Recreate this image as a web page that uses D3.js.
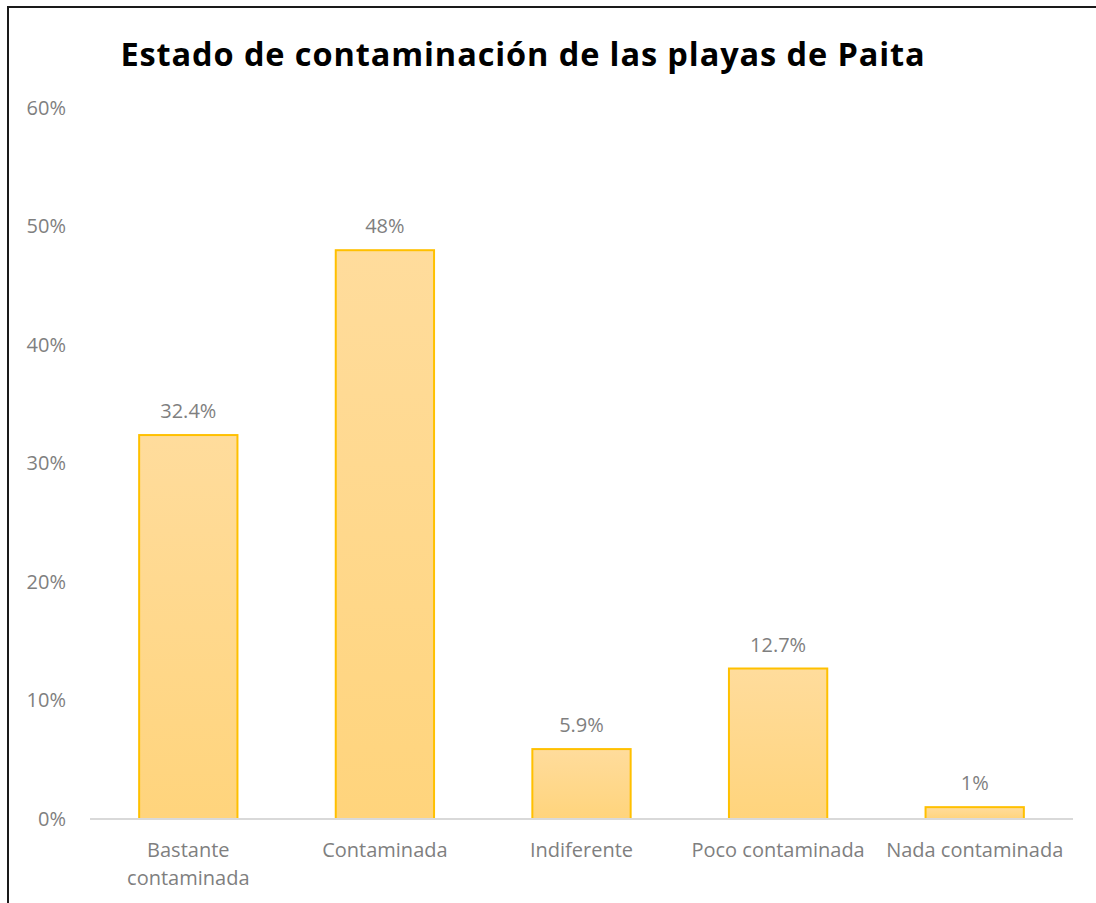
<!DOCTYPE html>
<html>
<head>
<meta charset="utf-8">
<script src="https://cdn.jsdelivr.net/npm/d3@7"></script>
<style>
  body { margin: 0; background: #fff; }
  text { font-family: "Open Sans", "Noto Sans", sans-serif; }
</style>
</head>
<body>
<div id="chart"></div>
<script>
// data
var categories = ["Bastante contaminada", "Contaminada", "Indiferente", "Poco contaminada", "Nada contaminada"];
var values = [32.4, 48, 5.9, 12.7, 1];
var valueLabels = ["32.4%", "48%", "5.9%", "12.7%", "1%"];
var yTicks = [0, 10, 20, 30, 40, 50, 60];

var svgWidth = 1096;
var svgHeight = 903;
var margin = { top: 108, right: 23, bottom: 84, left: 90 };
var width = svgWidth - margin.left - margin.right;
var height = svgHeight - margin.top - margin.bottom;

var svg = d3.select("#chart").append("svg")
    .attr("width", svgWidth)
    .attr("height", svgHeight);

// outer frame (right and bottom run off the picture)
svg.append("rect")
    .attr("x", 8).attr("y", 7)
    .attr("width", 1200).attr("height", 1000)
    .attr("fill", "none")
    .attr("stroke", "#1a1a1a")
    .attr("stroke-width", 2);

var defs = svg.append("defs");
var grad = defs.append("linearGradient")
    .attr("id", "barGrad")
    .attr("x1", 0).attr("y1", 0).attr("x2", 0).attr("y2", 1);
grad.append("stop").attr("offset", "0%").attr("stop-color", "#FFDC9C");
grad.append("stop").attr("offset", "100%").attr("stop-color", "#FFD47C");

svg.append("text")
    .attr("x", 523)
    .attr("y", 66)
    .attr("text-anchor", "middle")
    .attr("font-size", "32.5px")
    .attr("font-weight", "bold")
    .attr("letter-spacing", "0.9px")
    .attr("fill", "#000")
    .text("Estado de contaminación de las playas de Paita");

var g = svg.append("g")
    .attr("transform", `translate(${margin.left}, ${margin.top})`);

var x = d3.scaleBand()
    .domain(categories)
    .range([0, width])
    .paddingInner(0.5)
    .paddingOuter(0.25);

var y = d3.scaleLinear()
    .domain([0, 60])
    .range([height, 0]);

// y axis labels
var yAxis = g.append("g")
    .call(d3.axisLeft(y).tickValues(yTicks).tickFormat(d => d + "%").tickSize(0).tickPadding(24));
yAxis.select(".domain").remove();
yAxis.selectAll("text")
    .attr("font-size", "20px")
    .attr("fill", "#7f7f7f")
    .attr("font-family", "Open Sans, Noto Sans, sans-serif");

// bars
g.selectAll("rect.bar")
    .data(values)
    .enter()
    .append("rect")
    .attr("class", "bar")
    .attr("x", (d, i) => x(categories[i]))
    .attr("y", d => y(d))
    .attr("width", x.bandwidth())
    .attr("height", d => height - y(d))
    .attr("fill", "url(#barGrad)")
    .attr("stroke", "#FFC000")
    .attr("stroke-width", 2);

// x axis line
g.append("line")
    .attr("x1", 0).attr("x2", width)
    .attr("y1", height).attr("y2", height)
    .attr("stroke", "#d9d9d9")
    .attr("stroke-width", 2);

// value labels
g.selectAll("text.value")
    .data(values)
    .enter()
    .append("text")
    .attr("class", "value")
    .attr("x", (d, i) => x(categories[i]) + x.bandwidth() / 2)
    .attr("y", d => y(d) - 17)
    .attr("text-anchor", "middle")
    .attr("font-size", "20px")
    .attr("fill", "#7f7f7f")
    .text((d, i) => valueLabels[i]);

// category labels (first one wraps)
var catLines = [["Bastante", "contaminada"], ["Contaminada"], ["Indiferente"], ["Poco contaminada"], ["Nada contaminada"]];
g.selectAll("text.cat")
    .data(categories)
    .enter()
    .append("text")
    .attr("class", "cat")
    .attr("x", d => x(d) + x.bandwidth() / 2)
    .attr("y", height + 38)
    .attr("text-anchor", "middle")
    .attr("font-size", "20px")
    .attr("fill", "#7f7f7f")
    .each(function(d, i) {
        var t = d3.select(this);
        catLines[i].forEach((line, j) => {
            t.append("tspan")
                .attr("x", x(d) + x.bandwidth() / 2)
                .attr("dy", j === 0 ? 0 : 28)
                .text(line);
        });
    });
</script>
</body>
</html>
